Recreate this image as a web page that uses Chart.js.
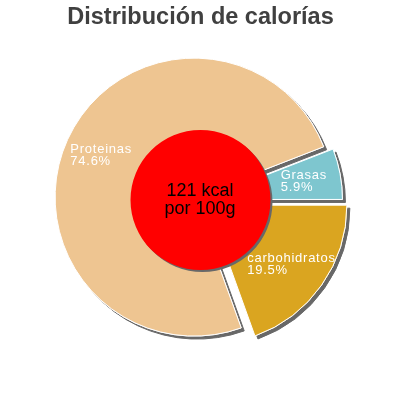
<!DOCTYPE html>
<html>
<head>
<meta charset="utf-8">
<script src="https://cdn.jsdelivr.net/npm/chart.js@4.4.1/dist/chart.umd.min.js"></script>
<style>
html, body { margin: 0; padding: 0; background: #ffffff; }
#wrap { position: relative; width: 400px; height: 400px; }
#wrap canvas { position: absolute; left: 0; top: 0; }
</style>
</head>
<body>
<div id="wrap">
  <canvas id="pie" width="400" height="400"></canvas>
  <canvas id="kcal" width="400" height="400"></canvas>
</div>
<script>
// ---- data ----
const titleText = 'Distribución de calorías';
const categories = ['Grasas', 'carbohidratos', 'Proteinas'];
const percentages = [5.9, 19.5, 74.6];
const percentLabels = ['5.9%', '19.5%', '74.6%'];
const centerLines = ['121 kcal', 'por 100g'];
const centerValue = [1];

// ---- style ----
const sliceColors = ['#7ec6cf', '#daa520', '#eec591'];
const explodePx = [3, 9, 7];
const FONT = '"Liberation Sans", Arial, Helvetica, sans-serif';

const explodePlugin = {
  id: 'explodeSlices',
  beforeDatasetDraw(chart, args) {
    const ctx = chart.ctx;
    const els = args.meta.data;
    const shift = (el, i) => {
      const mid = (el.startAngle + el.endAngle) / 2;
      return [Math.cos(mid) * explodePx[i], Math.sin(mid) * explodePx[i]];
    };
    // shadow pass
    ctx.save();
    ctx.shadowColor = '#686868';
    ctx.shadowOffsetX = 3;
    ctx.shadowOffsetY = 3;
    ctx.shadowBlur = 0;
    els.forEach((el, i) => {
      const [dx, dy] = shift(el, i);
      ctx.save(); ctx.translate(dx, dy); el.draw(ctx); ctx.restore();
    });
    ctx.restore();
    // clean pass
    els.forEach((el, i) => {
      const [dx, dy] = shift(el, i);
      ctx.save(); ctx.translate(dx, dy); el.draw(ctx); ctx.restore();
    });
    // labels
    ctx.save();
    ctx.fillStyle = '#ffffff';
    ctx.font = '13px ' + FONT;
    try { ctx.letterSpacing = '0.75px'; } catch (e) {}
    ctx.textAlign = 'left';
    ctx.textBaseline = 'alphabetic';
    els.forEach((el, i) => {
      const mid = (el.startAngle + el.endAngle) / 2;
      const r = explodePx[i] + el.outerRadius * 0.735;
      const cx = el.x + Math.cos(mid) * r;
      const cy = el.y + Math.sin(mid) * r;
      const l1 = categories[i], l2 = percentLabels[i];
      const w = Math.max(ctx.measureText(l1).width, ctx.measureText(l2).width);
      const x0 = cx - w / 2;
      ctx.fillText(l1, x0, cy - 1.5);
      ctx.fillText(l2, x0, cy + 10.5);
    });
    ctx.restore();
    return false;
  }
};

new Chart(document.getElementById('pie'), {
  type: 'pie',
  data: {
    labels: categories,
    datasets: [{
      data: percentages,
      backgroundColor: sliceColors,
      borderColor: '#ffffff',
      borderWidth: 1,
      hoverOffset: 0
    }]
  },
  options: {
    responsive: false,
    animation: false,
    events: [],
    radius: 139,
    rotation: 90 - percentages[0] * 3.6,
    layout: { padding: { left: 1, bottom: 31.2 } },
    plugins: {
      legend: { display: false },
      tooltip: { enabled: false },
      title: {
        display: true,
        text: titleText,
        color: '#404040',
        font: { family: FONT, size: 23.5, weight: 'bold', lineHeight: 1.2 },
        padding: { top: 3, bottom: 0 }
      }
    }
  },
  plugins: [explodePlugin]
});

const centerPlugin = {
  id: 'centerCircle',
  beforeDatasetDraw(chart) {
    const ctx = chart.ctx;
    ctx.save();
    ctx.shadowColor = '#686868';
    ctx.shadowOffsetX = 2;
    ctx.shadowOffsetY = 2;
    ctx.shadowBlur = 0;
  },
  afterDatasetDraw(chart) {
    chart.ctx.restore();
  },
  afterDraw(chart) {
    const ctx = chart.ctx;
    const el = chart.getDatasetMeta(0).data[0];
    ctx.save();
    ctx.fillStyle = '#000000';
    ctx.font = '18px ' + FONT;
    ctx.textAlign = 'center';
    ctx.textBaseline = 'alphabetic';
    ctx.fillText(centerLines[0], el.x - 0.5, el.y - 4);
    ctx.fillText(centerLines[1], el.x - 0.5, el.y + 14.3);
    ctx.restore();
  }
};

new Chart(document.getElementById('kcal'), {
  type: 'pie',
  data: {
    labels: ['kcal'],
    datasets: [{
      data: centerValue,
      backgroundColor: '#ff0000',
      borderWidth: 0,
      hoverOffset: 0
    }]
  },
  options: {
    responsive: false,
    animation: false,
    events: [],
    radius: 70,
    layout: { padding: { left: 1 } },
    plugins: {
      legend: { display: false },
      tooltip: { enabled: false },
      title: { display: false }
    }
  },
  plugins: [centerPlugin]
});
</script>
</body>
</html>
